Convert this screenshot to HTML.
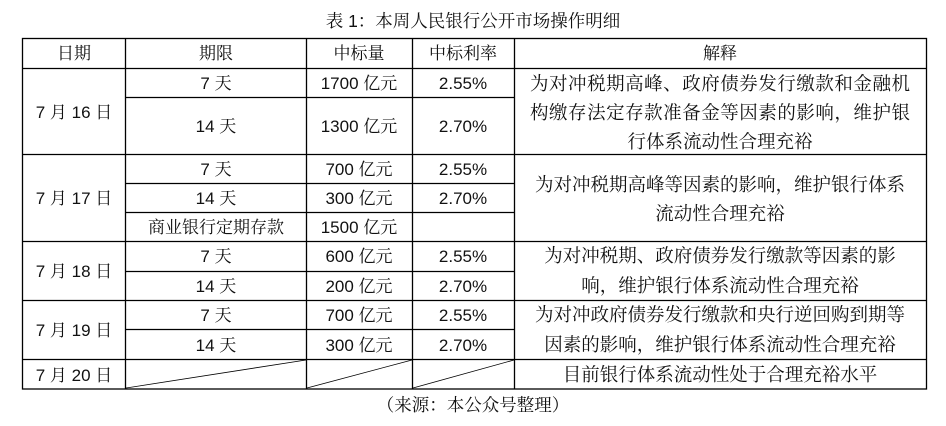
<!DOCTYPE html>
<html><head><meta charset="utf-8"><style>
html,body{margin:0;padding:0;background:#fff;}
svg text{font-family:"Liberation Sans","Noto Serif CJK SC","Noto Sans CJK SC",serif;fill:#111;}
</style></head><body>
<svg width="946" height="421" viewBox="0 0 946 421" xmlns="http://www.w3.org/2000/svg">
<text x="473" y="27" font-size="17.5" text-anchor="middle">表 1：本周人民银行公开市场操作明细</text>
<g stroke="#000" stroke-width="1.3" fill="none">
<rect x="22.5" y="38.5" width="904" height="350.5"/>
<line x1="22" y1="68.5" x2="927" y2="68.5"/>
<line x1="125" y1="97.5" x2="514" y2="97.5"/>
<line x1="22" y1="154.5" x2="927" y2="154.5"/>
<line x1="125" y1="183.5" x2="514" y2="183.5"/>
<line x1="125" y1="212.5" x2="514" y2="212.5"/>
<line x1="22" y1="241.5" x2="927" y2="241.5"/>
<line x1="125" y1="271.5" x2="514" y2="271.5"/>
<line x1="22" y1="300.5" x2="927" y2="300.5"/>
<line x1="125" y1="329.5" x2="514" y2="329.5"/>
<line x1="22" y1="359.5" x2="927" y2="359.5"/>
<line x1="125.5" y1="38" x2="125.5" y2="389"/>
<line x1="306.5" y1="38" x2="306.5" y2="389"/>
<line x1="412.5" y1="38" x2="412.5" y2="389"/>
<line x1="514.5" y1="38" x2="514.5" y2="389"/>
</g>
<g stroke="#000" stroke-width="0.8">
<line x1="126" y1="388" x2="306" y2="360"/>
<line x1="307" y1="388" x2="412" y2="360"/>
<line x1="413" y1="388" x2="514" y2="360"/>
</g>
<g font-size="17" text-anchor="middle">
<text x="74" y="59">日期</text><text x="216" y="59">期限</text><text x="359" y="59">中标量</text><text x="463" y="59">中标利率</text><text x="720" y="59">解释</text>
<text x="74" y="118">7 月 16 日</text>
<text x="216" y="89">7 天</text><text x="359" y="89">1700 亿元</text><text x="463" y="89">2.55%</text>
<text x="216" y="132">14 天</text><text x="359" y="132">1300 亿元</text><text x="463" y="132">2.70%</text>
<text x="74" y="204">7 月 17 日</text>
<text x="216" y="175">7 天</text><text x="359" y="175">700 亿元</text><text x="463" y="175">2.55%</text>
<text x="216" y="204">14 天</text><text x="359" y="204">300 亿元</text><text x="463" y="204">2.70%</text>
<text x="216" y="233">商业银行定期存款</text><text x="359" y="233">1500 亿元</text>
<text x="74" y="277">7 月 18 日</text>
<text x="216" y="262">7 天</text><text x="359" y="262">600 亿元</text><text x="463" y="262">2.55%</text>
<text x="216" y="292">14 天</text><text x="359" y="292">200 亿元</text><text x="463" y="292">2.70%</text>
<text x="74" y="336">7 月 19 日</text>
<text x="216" y="321">7 天</text><text x="359" y="321">700 亿元</text><text x="463" y="321">2.55%</text>
<text x="216" y="351">14 天</text><text x="359" y="351">300 亿元</text><text x="463" y="351">2.70%</text>
<text x="74" y="381">7 月 20 日</text>
</g>
<g font-size="18.5" text-anchor="middle">
<text x="720" y="90" textLength="380">为对冲税期高峰、政府债券发行缴款和金融机</text>
<text x="720" y="119" textLength="380">构缴存法定存款准备金等因素的影响，维护银</text>
<text x="720" y="148">行体系流动性合理充裕</text>
<text x="720" y="191">为对冲税期高峰等因素的影响，维护银行体系</text>
<text x="720" y="220">流动性合理充裕</text>
<text x="720" y="262">为对冲税期、政府债券发行缴款等因素的影</text>
<text x="720" y="292">响，维护银行体系流动性合理充裕</text>
<text x="720" y="321">为对冲政府债券发行缴款和央行逆回购到期等</text>
<text x="720" y="351">因素的影响，维护银行体系流动性合理充裕</text>
<text x="720" y="381">目前银行体系流动性处于合理充裕水平</text>
</g>
<text x="473" y="411" font-size="17.5" text-anchor="middle">（来源：本公众号整理）</text>
</svg>
</body></html>
